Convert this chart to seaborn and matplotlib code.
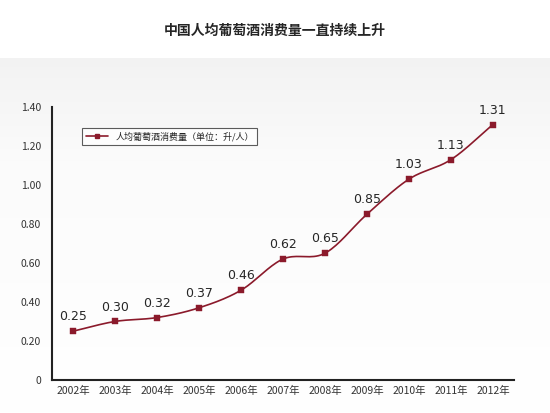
import numpy as np
import matplotlib
matplotlib.use("Agg")
import matplotlib.pyplot as plt
import seaborn as sns
import pandas as pd

years = ["2002年","2003年","2004年","2005年","2006年","2007年","2008年","2009年","2010年","2011年","2012年"]
values = [0.25,0.30,0.32,0.37,0.46,0.62,0.65,0.85,1.03,1.13,1.31]
labels = ["0.25","0.30","0.32","0.37","0.46","0.62","0.65","0.85","1.03","1.13","1.31"]
yticks = [0,0.2,0.4,0.6,0.8,1.0,1.2,1.4]
ytick_labels = ["0","0.20","0.40","0.60","0.80","1.00","1.20","1.40"]
title = "中国人均葡萄酒消费量一直持续上升"
series_name = "人均葡萄酒消费量（单位：升/人）"

sns.set_style("white")
plt.rcParams['font.family'] = ['Noto Sans CJK SC', 'DejaVu Sans']
color = "#8b1a2b"

fig = plt.figure(figsize=(5.5, 4.13), dpi=100)
# subtle gradient background
bg = fig.add_axes([0, 0, 1, 0.86], zorder=-5)
grad = np.concatenate([np.linspace(0.95, 0.985, 60), np.linspace(0.985, 1.0, 140)]).reshape(-1, 1)
bg.imshow(np.dstack([grad, grad, grad]), aspect="auto", extent=[0, 1, 0, 1], origin="upper")
bg.axis("off")
fig.text(0.5, 0.925, title, ha="center", va="center", fontsize=10, fontweight="bold")

ax = fig.add_axes([0.0945, 0.08, 0.84, 0.661])
ax.patch.set_alpha(0)
x = np.arange(len(years))
df = pd.DataFrame({"x": x, "v": values})

# smooth curve (Catmull-Rom) through data points for rendering
pts = np.column_stack([x, values]).astype(float)
P = np.vstack([2*pts[0]-pts[1], pts, 2*pts[-1]-pts[-2]])
curve = []
for i in range(1, len(P)-2):
    p0, p1, p2, p3 = P[i-1], P[i], P[i+1], P[i+2]
    for t in np.linspace(0, 1, 20):
        curve.append(0.5*((2*p1) + (-p0+p2)*t + (2*p0-5*p1+4*p2-p3)*t**2 + (-p0+3*p1-3*p2+p3)*t**3))
curve = np.array(curve)
ax.plot(curve[:, 0], curve[:, 1], color=color, lw=1.2)
sns.scatterplot(data=df, x="x", y="v", ax=ax, marker="s", s=14, color=color, edgecolor=color, zorder=3)
ax.plot([], [], color=color, marker="s", ms=3.5, lw=1.2, label=series_name)

for xi, v, l in zip(x, values, labels):
    ax.text(xi, v + 0.04, l, ha="center", va="bottom", fontsize=9, family="DejaVu Sans")

ax.set_xlim(-0.5, len(years)-0.5)
ax.set_ylim(0, 1.4)
ax.set_yticks(yticks)
ax.set_yticklabels(ytick_labels, fontsize=7.5, color="#333333")
ax.set_xticks(x)
ax.set_xticklabels(years, fontsize=7.5, color="#333333")
ax.set_xticks(np.arange(0.5, len(years)-1, 1), minor=True)
ax.tick_params(axis="x", which="major", length=0, pad=4)
ax.tick_params(axis="x", which="minor", direction="in", length=6, width=1.5)
ax.tick_params(axis="y", direction="in", length=5, width=1.5, pad=8)
ax.set_xlabel(""); ax.set_ylabel("")
for s in ["top", "right"]:
    ax.spines[s].set_visible(False)
for s in ["left", "bottom"]:
    ax.spines[s].set_linewidth(1.5)
    ax.spines[s].set_color("#222222")
leg = ax.legend(loc="upper left", bbox_to_anchor=(0.055, 0.94), fontsize=6.5, frameon=True,
                fancybox=False, edgecolor="#333333", handlelength=2.5, facecolor="white")
leg.get_frame().set_linewidth(0.8)
fig.savefig("out.png", dpi=100)
